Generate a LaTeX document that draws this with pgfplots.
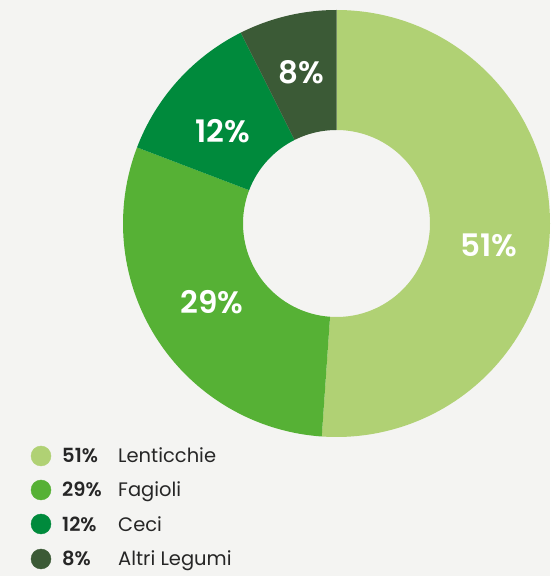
\documentclass[border=0pt]{standalone}
\usepackage{fontspec}
\setmainfont{Poppins}[BoldFont={* SemiBold}]
\usepackage{pgfplots}
\pgfplotsset{compat=1.18}

\definecolor{bg}{HTML}{F4F4F2}
\definecolor{lent}{HTML}{B0D174}
\definecolor{fag}{HTML}{56B135}
\definecolor{ceci}{HTML}{008A3C}
\definecolor{altri}{HTML}{3B5A36}
\definecolor{txt}{HTML}{262626}

\begin{document}
\begin{tikzpicture}
\begin{axis}[x=1pt, y=1pt, xmin=0, xmax=550, ymin=0, ymax=576,
  hide axis, clip=false]
  \fill[bg] (axis cs:0,0) rectangle (axis cs:550,576);
  % donut: centre, outer and inner radius
  \def\cx{336.5}\def\cy{352.5}\def\R{213.5}\def\r{93.5}
  \gdef\startang{90}
  % shares as drawn (slice angles)
  \foreach \v/\c in {51.1/lent, 29.7/fag, 11.8/ceci, 7.4/altri}{
    \pgfmathsetmacro\endang{\startang-3.6*\v}
    \pgfmathsetmacro\xs{\cx+\R*cos(\startang)}
    \pgfmathsetmacro\ys{\cy+\R*sin(\startang)}
    \pgfmathsetmacro\xe{\cx+\r*cos(\endang)}
    \pgfmathsetmacro\ye{\cy+\r*sin(\endang)}
    \edef\temp{\noexpand\fill[\c] (axis cs:\xs,\ys)
      arc[start angle=\startang, end angle=\endang, radius=\R]
      -- (axis cs:\xe,\ye)
      arc[start angle=\endang, end angle=\startang, radius=\r] -- cycle;}
    \temp
    \xdef\startang{\endang}
  }
  % slice labels
  \begin{scope}[every node/.style={white, font=\bfseries\fontsize{31}{31}\selectfont}]
    \node at (axis cs:489,331) {51\%};
    \node at (axis cs:212,274) {29\%};
    \node at (axis cs:223,445) {12\%};
    \node at (axis cs:301,504) {8\%};
  \end{scope}
  % legend
  \addplot[only marks, mark=*, mark size=10, color=lent] coordinates {(41,120)};
  \addplot[only marks, mark=*, mark size=10, color=fag] coordinates {(41,86)};
  \addplot[only marks, mark=*, mark size=10, color=ceci] coordinates {(41,52)};
  \addplot[only marks, mark=*, mark size=10, color=altri] coordinates {(41,17)};
  \begin{scope}[every node/.style={txt, anchor=base west, inner sep=0pt, font=\fontsize{19.5}{19.5}\selectfont}]
    \node at (axis cs:62,113) {\bfseries 51\%};
    \node at (axis cs:62,79) {\bfseries 29\%};
    \node at (axis cs:62,45) {\bfseries 12\%};
    \node at (axis cs:62,10) {\bfseries 8\%};
    \node at (axis cs:118,113) {Lenticchie};
    \node at (axis cs:118,79) {Fagioli};
    \node at (axis cs:118,45) {Ceci};
    \node at (axis cs:118,10) {Altri Legumi};
  \end{scope}
\end{axis}
\end{tikzpicture}
\end{document}
